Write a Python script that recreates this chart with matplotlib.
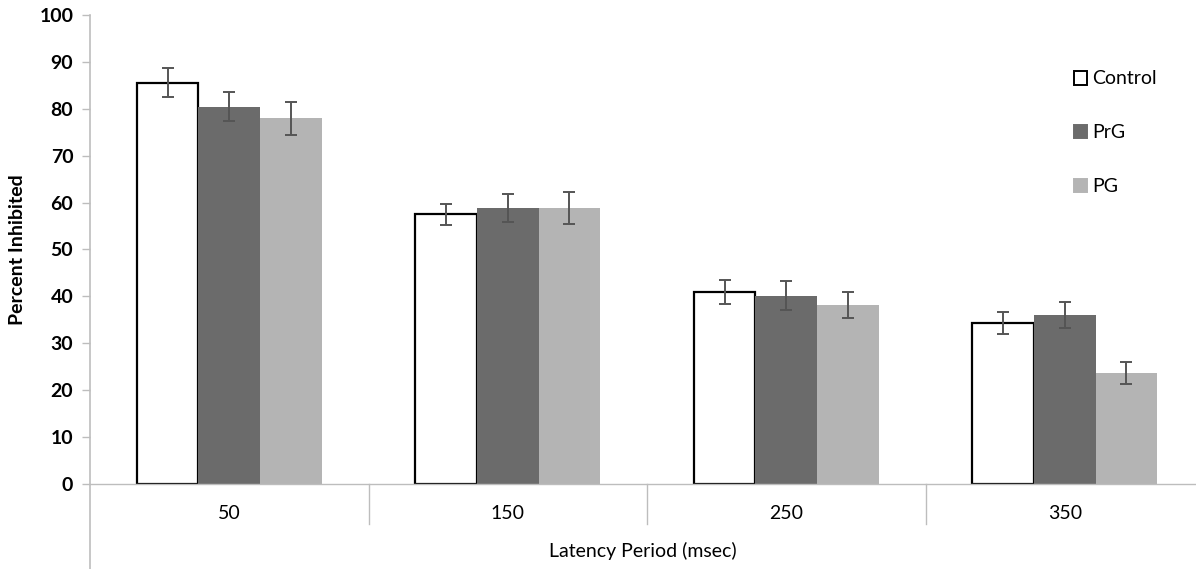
import numpy as np
import matplotlib
matplotlib.use("Agg")
import matplotlib.pyplot as plt
from matplotlib.patches import Patch

plt.rcParams["font.family"] = ["Lato", "DejaVu Sans"]

latency = ["50", "150", "250", "350"]
groups = ["Control", "PrG", "PG"]
means = {
    "Control": [85.6, 57.5, 40.9, 34.3],
    "PrG": [80.4, 58.9, 40.1, 36.0],
    "PG": [78.0, 58.9, 38.2, 23.7],
}
errors = {
    "Control": [3.0, 2.3, 2.5, 2.4],
    "PrG": [3.1, 3.0, 3.1, 2.7],
    "PG": [3.5, 3.4, 2.7, 2.4],
}
colors = {"Control": "white", "PrG": "#6b6b6b", "PG": "#b4b4b4"}
edges = {"Control": "black", "PrG": "#6b6b6b", "PG": "#b4b4b4"}

W, H = 1196, 569
fig = plt.figure(figsize=(W / 100, H / 100), dpi=100)
ax = fig.add_axes([90 / W, (H - 484) / H, (W - 90) / W, (484 - 15) / H])

x = np.arange(len(latency))
width = 0.221
axis_gray = "#bdbdbd"
fs = 14
for i, g in enumerate(groups):
    ax.bar(x + (i - 1) * width, means[g], width, color=colors[g],
           edgecolor=edges[g], linewidth=1.6 if g == "Control" else 0,
           zorder=2, label=g)
    ax.errorbar(x + (i - 1) * width, means[g], yerr=errors[g], fmt="none",
                ecolor="#555555", elinewidth=1.4, capsize=4, capthick=1.4,
                zorder=3)

cat_w = 278.5
ax.set_xlim(-0.5, (W - 90) / cat_w - 0.5)
ax.set_ylim(0, 100)
ax.set_yticks(np.arange(0, 101, 10))
ax.tick_params(axis="y", labelsize=fs, length=6, color=axis_gray, width=1,
               pad=6)
ax.set_xticks(x)
ax.set_xticklabels(latency)
ax.tick_params(axis="x", labelsize=fs, length=0, pad=15)
for lab in ax.get_yticklabels():
    lab.set_fontweight("bold")

for s in ["top", "right", "left"]:
    ax.spines[s].set_visible(False)
ax.spines["bottom"].set_color(axis_gray)
ax.spines["bottom"].set_linewidth(1)

# left axis line running below the category axis
ax.plot([-0.5, -0.5], [-18.2, 100], color=axis_gray, lw=1.2, clip_on=False,
        zorder=1)
# category separators
for b in [0.5, 1.5, 2.5]:
    ax.plot([b, b], [0, -8.6], color=axis_gray, lw=1, clip_on=False)

ax.set_ylabel("Percent Inhibited", fontsize=fs, fontweight="bold")
ax.yaxis.set_label_coords(-64 / (W - 90), 0.5)
fig.text(643 / W, 1 - 551 / H, "Latency Period (msec)", ha="center",
         va="center", fontsize=fs)

handles = [Patch(facecolor=colors[g], edgecolor="black" if g == "Control" else colors[g],
                 linewidth=1.4) for g in groups]
fig.legend(handles, groups, loc="upper left",
           bbox_to_anchor=(1056 / W, 1 - 53 / H), frameon=False,
           fontsize=fs, handlelength=0.7, handleheight=0.7,
           handletextpad=0.25, labelspacing=1.9)

fig.savefig("out.png", dpi=100)
